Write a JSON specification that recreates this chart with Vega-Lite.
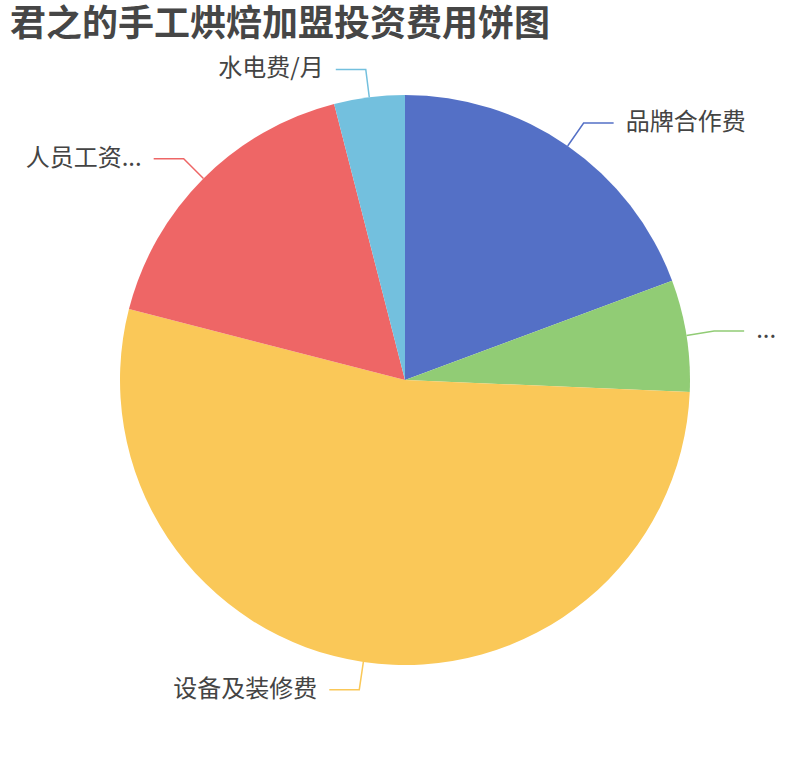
{
  "$schema": "https://vega.github.io/schema/vega-lite/v6.json",
  "width": 810,
  "height": 760,
  "autosize": {"type": "none"},
  "padding": 0,
  "background": "white",
  "config": {"view": {"stroke": null}, "font": "Noto Sans CJK SC"},
  "title": {
    "text": "君之的手工烘焙加盟投资费用饼图",
    "anchor": "start",
    "frame": "group",
    "offset": -44,
    "dx": 10,
    "fontSize": 36,
    "fontWeight": "bold",
    "font": "Noto Sans CJK SC",
    "color": "#464646"
  },
  "data": {
    "values": [
      {"label": "品牌合作费", "value": 5.8},
      {"label": "...", "value": 1.9},
      {"label": "设备及装修费", "value": 16},
      {"label": "人员工资...", "value": 5.1},
      {"label": "水电费/月", "value": 1.2}
    ]
  },
  "transform": [
    {"window": [{"op": "sum", "field": "value", "as": "cum"}, {"op": "row_number", "as": "idx"}], "frame": [null, 0]},
    {"joinaggregate": [{"op": "sum", "field": "value", "as": "total"}]},
    {"calculate": "2 * PI * (datum.cum - datum.value / 2) / datum.total", "as": "mid"},
    {"calculate": "sin(datum.mid) >= 0 ? 1 : -1", "as": "side"}
  ],
  "layer": [
    {
      "mark": {"type": "arc", "outerRadius": 285},
      "encoding": {
        "theta": {"field": "value", "type": "quantitative", "stack": true},
        "order": {"field": "idx", "type": "quantitative"},
        "color": {
          "field": "label",
          "type": "nominal",
          "scale": {
            "domain": ["品牌合作费", "...", "设备及装修费", "人员工资...", "水电费/月"],
            "range": ["#5470c6", "#91cc75", "#fac858", "#ee6666", "#73c0de"]
          },
          "legend": null
        }
      }
    },
    {
      "transform": [
        {"calculate": "285 * sin(datum.mid)", "as": "a0"},
        {"calculate": "313 * sin(datum.mid)", "as": "a1"},
        {"calculate": "313 * sin(datum.mid) + datum.side * 30", "as": "a2"},
        {"fold": ["a0", "a1", "a2"], "as": ["pt", "px"]},
        {"calculate": "(datum.pt == 'a0' ? 285 : 313) * cos(datum.mid)", "as": "py"}
      ],
      "mark": {"type": "line", "strokeWidth": 1.5, "interpolate": "linear"},
      "encoding": {
        "x": {"field": "px", "type": "quantitative", "scale": {"domain": [-405, 405], "nice": false, "zero": false}, "axis": null},
        "y": {"field": "py", "type": "quantitative", "scale": {"domain": [-380, 380], "nice": false, "zero": false}, "axis": null},
        "detail": {"field": "label"},
        "order": {"field": "pt"},
        "color": {"field": "label", "type": "nominal", "legend": null}
      }
    },
    {
      "transform": [
        {"filter": "datum.side > 0"},
        {"calculate": "313 * sin(datum.mid) + 42", "as": "tx"},
        {"calculate": "313 * cos(datum.mid)", "as": "ty"}
      ],
      "mark": {"type": "text", "align": "left", "baseline": "middle", "fontSize": 24, "color": "#444444", "font": "Noto Sans CJK SC"},
      "encoding": {
        "x": {"field": "tx", "type": "quantitative"},
        "y": {"field": "ty", "type": "quantitative"},
        "text": {"field": "label"}
      }
    },
    {
      "transform": [
        {"filter": "datum.side < 0"},
        {"calculate": "313 * sin(datum.mid) - 42", "as": "tx"},
        {"calculate": "313 * cos(datum.mid)", "as": "ty"}
      ],
      "mark": {"type": "text", "align": "right", "baseline": "middle", "fontSize": 24, "color": "#444444", "font": "Noto Sans CJK SC"},
      "encoding": {
        "x": {"field": "tx", "type": "quantitative"},
        "y": {"field": "ty", "type": "quantitative"},
        "text": {"field": "label"}
      }
    }
  ]
}
